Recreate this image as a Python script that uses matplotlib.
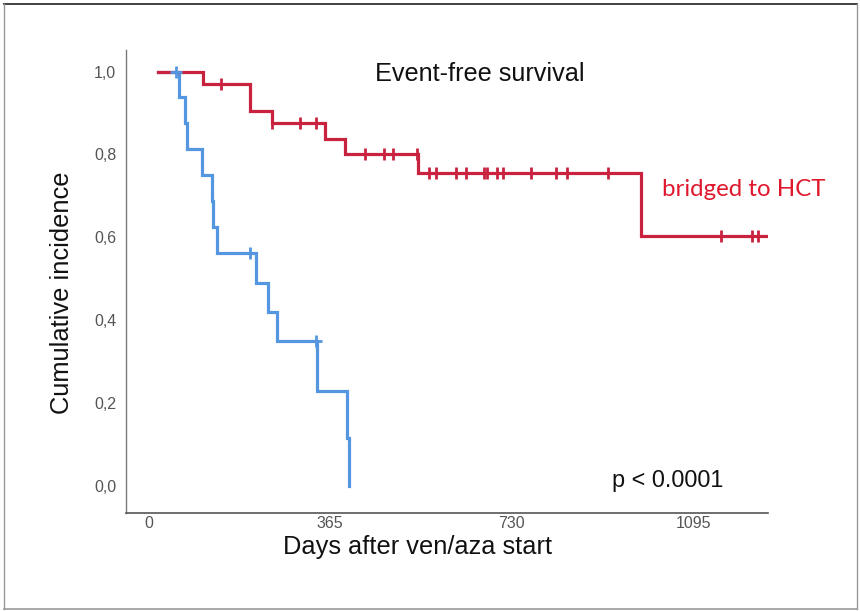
import numpy as np
import matplotlib
matplotlib.use("Agg")
import matplotlib.pyplot as plt
from matplotlib.lines import Line2D
import matplotlib.transforms as mtransforms

# ---------------- data ----------------
red_times = [0, 91, 185, 229, 336, 377, 523, 971]
red_surv = [1.0, 0.969, 0.906, 0.875, 0.838, 0.800, 0.756, 0.603]
red_end = 1227
red_censor_times = [126, 229, 286, 317, 416, 455, 473, 521, 545, 560, 599, 619,
                    656, 661, 681, 694, 751, 800, 822, 905, 1132, 1194, 1206]

blue_times = [0, 43, 54, 58, 88, 108, 111, 118, 198, 221, 240, 320, 381, 385]
blue_surv = [1.0, 0.9375, 0.875, 0.8125, 0.75, 0.6875, 0.625, 0.5625, 0.49,
             0.42, 0.35, 0.23, 0.115, 0.0]
blue_censor_times = [36, 186, 318]

x_ticks = [0, 365, 730, 1095]
x_tick_labels = ["0", "365", "730", "1095"]
y_ticks = [0.0, 0.2, 0.4, 0.6, 0.8, 1.0]
y_tick_labels = ["0,0", "0,2", "0,4", "0,6", "0,8", "1,0"]

title = "Event-free survival"
group_label = "bridged to HCT"
p_text = "p < 0.0001"
x_label = "Days after ven/aza start"
y_label = "Cumulative incidence"

RED = "#C8223F"
BLUE = "#5596E0"
RED_TEXT = "#E0182D"

W, H = 860, 611
fig = plt.figure(figsize=(W / 100, H / 100), dpi=100)
ax = fig.add_axes([126 / W, 1 - 513 / H, (768 - 126) / W, (513 - 50) / H])


def surv_at(times, surv, t):
    i = np.searchsorted(times, t, side="right") - 1
    return surv[i]


# curves
ax.step(blue_times, blue_surv, where="post", color=BLUE, lw=2.3, zorder=3,
        solid_joinstyle="miter")
rt = list(red_times) + [red_end]
rs = list(red_surv) + [red_surv[-1]]
ax.step(rt, rs, where="post", color=RED, lw=2.3, zorder=4, solid_joinstyle="miter")

# censor marks
rc_y = [surv_at(red_times, red_surv, t) for t in red_censor_times]
ax.plot(red_censor_times, rc_y, ls="none", marker="|", ms=9, mew=2.0, color=RED, zorder=5)
bc_y = [surv_at(blue_times, blue_surv, t) for t in blue_censor_times]
ax.plot(blue_censor_times, bc_y, ls="none", marker="+", ms=9, mew=2.0, color=BLUE, zorder=6)

ax.set_xlim(-64.3, 1227)
ax.set_ylim(-0.065, 1.052)

for s in ["top", "right"]:
    ax.spines[s].set_visible(False)
ax.spines["left"].set_color("#7a7a7a")
ax.spines["bottom"].set_color("#555555")
ax.spines["left"].set_linewidth(1.0)
ax.spines["bottom"].set_linewidth(1.2)

tickfont = ["Liberation Sans", "DejaVu Sans"]
ax.set_xticks(x_ticks)
ax.set_xticklabels(x_tick_labels, family=tickfont, fontsize=11.5, color="#555555")
ax.set_yticks(y_ticks)
ax.set_yticklabels(y_tick_labels, family=tickfont, fontsize=11.5, color="#555555")
ax.tick_params(axis="both", length=0)
ax.tick_params(axis="x", pad=2)
ax.tick_params(axis="y", pad=7)
off = mtransforms.ScaledTranslation(-9.3 / 100, 0, fig.dpi_scale_trans)
for lab in ax.get_xticklabels():
    lab.set_transform(lab.get_transform() + off)

# texts
fig.text(480 / W, 1 - 74 / H, title, ha="center", va="center",
         family=["Liberation Sans", "DejaVu Sans"], fontsize=18.2, color="#111111")
fig.text(662 / W, 1 - 190 / H, group_label, ha="left", va="center",
         family=["Lato", "DejaVu Sans"], fontsize=17.3, color=RED_TEXT)
fig.text(668 / W, 1 - 480 / H, p_text, ha="center", va="center",
         family=["Liberation Sans", "DejaVu Sans"], fontsize=16.9, color="#111111")
fig.text(418 / W, 1 - 547 / H, x_label, ha="center", va="center",
         family=["Liberation Sans", "DejaVu Sans"], fontsize=18.3, color="#111111")
fig.text(62 / W, 1 - 293 / H, y_label, ha="center", va="center", rotation=90,
         family=["Liberation Sans", "DejaVu Sans"], fontsize=18.4, color="#111111")

# outer frame
fig.add_artist(Line2D([4 / W, 857 / W], [1 - 4 / H, 1 - 4 / H], color="#333333", lw=1.3))
fig.add_artist(Line2D([4 / W, 4 / W], [1 - 4 / H, 1 - 609 / H], color="#999999", lw=1.0))
fig.add_artist(Line2D([857 / W, 857 / W], [1 - 4 / H, 1 - 609 / H], color="#999999", lw=1.0))
fig.add_artist(Line2D([4 / W, 857 / W], [1 - 609 / H, 1 - 609 / H], color="#999999", lw=1.2))

fig.savefig("out.png", dpi=100)
